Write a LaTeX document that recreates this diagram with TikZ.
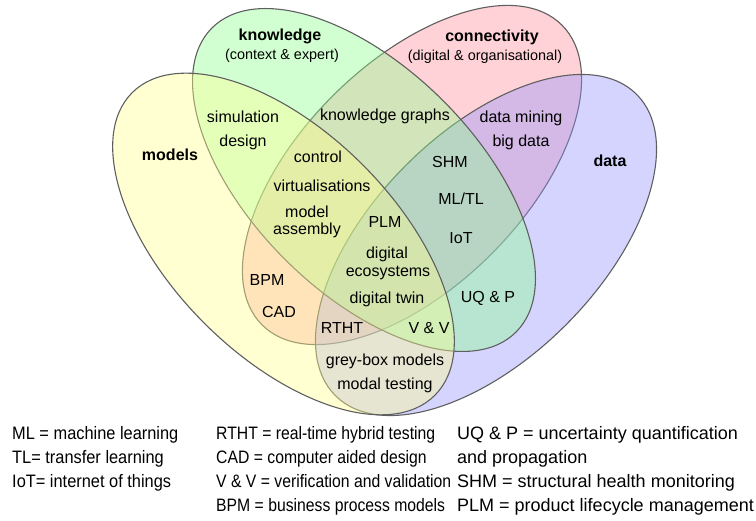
\documentclass[tikz,border=0pt]{standalone}
\usepackage{fontspec}
\usepackage{graphicx}
\setmainfont{Liberation Sans}
\definecolor{cmod}{RGB}{255,255,142}
\definecolor{ckno}{RGB}{142,255,142}
\definecolor{ccon}{RGB}{255,142,155}
\definecolor{cdat}{RGB}{147,147,255}
\definecolor{cline}{RGB}{95,95,95}
\newcommand{\legA}[1]{\scalebox{0.91}[1]{#1}}
\newcommand{\legB}[1]{\scalebox{0.875}[1]{#1}}
\newcommand{\legC}[1]{\scalebox{1.0}[1]{#1}}
\tikzset{
  setshape/.style={fill opacity=0.4, draw=cline, line width=1.1pt},
  lbl/.style={inner sep=0pt, font=\fontsize{16}{17.5}\selectfont, text height=11.5pt, text depth=3.4pt},
  title/.style={inner sep=0pt, font=\fontsize{16}{18}\selectfont\bfseries, text height=11.5pt, text depth=3.4pt},
  sub/.style={inner sep=0pt, font=\fontsize{14.4}{17}\selectfont, text height=10.4pt, text depth=3.1pt},
  leg/.style={inner sep=0pt, anchor=west, font=\fontsize{18}{20}\selectfont, text height=12.9pt, text depth=3.8pt}
}
\begin{document}
\begin{tikzpicture}[x=1pt,y=-1pt]
\useasboundingbox (0,0) rectangle (756,521);
% sets: connectivity, data, knowledge, models (drawing order)
\draw[setshape, fill=ccon, rotate around={45:(412,175)}] (412,175) ellipse [x radius=212pt, y radius=112pt];
\draw[setshape, fill=cdat, rotate around={45:(486,245)}] (486,245) ellipse [x radius=213pt, y radius=113pt];
\draw[setshape, fill=ckno, rotate around={-45:(364,180)}] (364,180) ellipse [x radius=215pt, y radius=112pt];
\draw[setshape, fill=cmod, rotate around={-45:(283.5,244)}] (283.5,244) ellipse [x radius=214pt, y radius=112pt];

% set titles
\node[title] (tkno) at (280,36) {knowledge};
\node[sub] (skno) at (282,56) {(context \& expert)};
\node[title] (tcon) at (492,37) {connectivity};
\node[sub] (scon) at (485,57) {(digital \& organisational)};
\node[title] (tmod) at (170,156) {models};
\node[title] (tdat) at (610,162) {data};

% region labels
\node[lbl] (sim) at (243,118) {simulation};
\node[lbl] (des) at (243,142) {design};
\node[lbl] (kg) at (385,116) {knowledge graphs};
\node[lbl] (ctl) at (318,158) {control};
\node[lbl] (vir) at (322,187) {virtualisations};
\node[lbl] (mdl) at (307,213) {model};
\node[lbl] (asm) at (307,230) {assembly};
\node[lbl] (plm) at (385,223) {PLM};
\node[lbl] (dgt) at (387,254) {digital};
\node[lbl] (eco) at (388,272) {ecosystems};
\node[lbl] (dtw) at (387,299) {digital twin};
\node[lbl] (dmi) at (521,118) {data mining};
\node[lbl] (bgd) at (521,142) {big data};
\node[lbl] (shm) at (450,163) {SHM};
\node[lbl] (mltl) at (461,200) {ML/TL};
\node[lbl] (iot) at (461,239) {IoT};
\node[lbl] (bpm) at (267,281) {BPM};
\node[lbl] (cad) at (279,313) {CAD};
\node[lbl] (rtht) at (342,329) {RTHT};
\node[lbl] (vv) at (429,329) {V \& V};
\node[lbl] (uqp) at (488,298) {UQ \& P};
\node[lbl] (gbm) at (385,361) {grey-box models};
\node[lbl] (mdt) at (385,385) {modal testing};

% legend
\node[leg] (l11) at (12,435) {\legA{ML = machine learning}};
\node[leg] (l12) at (12,459) {\legA{TL= transfer learning}};
\node[leg] (l13) at (12,483) {\legA{IoT= internet of things}};
\node[leg] (l21) at (216,435) {\legB{RTHT = real-time hybrid testing}};
\node[leg] (l22) at (216,459) {\legB{CAD = computer aided design}};
\node[leg] (l23) at (216,483) {\legB{V \& V = verification and validation}};
\node[leg] (l24) at (216,507) {\legB{BPM = business process models}};
\node[leg] (l31) at (457,435) {\legC{UQ \& P = uncertainty quantification}};
\node[leg] (l32) at (457,459) {\legC{and propagation}};
\node[leg] (l33) at (457,483) {\legC{SHM = structural health monitoring}};
\node[leg] (l34) at (457,507) {\legC{PLM = product lifecycle management}};
\end{tikzpicture}
\end{document}
